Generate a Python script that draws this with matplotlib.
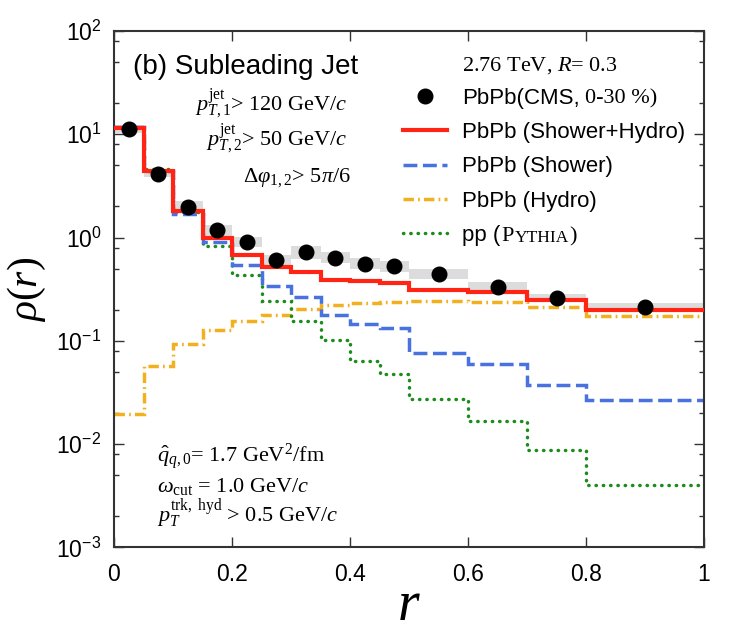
import numpy as np
import matplotlib
matplotlib.use("Agg")
import matplotlib.pyplot as plt
from matplotlib.lines import Line2D
from matplotlib.ticker import LogLocator, FixedLocator, FuncFormatter, NullFormatter

plt.rcParams["mathtext.fontset"] = "custom"
plt.rcParams["mathtext.rm"] = "Liberation Serif"
plt.rcParams["mathtext.it"] = "Liberation Serif:italic"
plt.rcParams["mathtext.bf"] = "Liberation Serif:bold"
plt.rcParams["mathtext.sf"] = "Liberation Sans"
plt.rcParams["font.family"] = ["Liberation Sans", "DejaVu Sans"]

# bin edges in r
edges = [0, 0.05, 0.1, 0.15, 0.2, 0.25, 0.3, 0.35, 0.4, 0.45, 0.5, 0.6, 0.7, 0.8, 1.0]

# CMS data (PbPb 0-30%), bin centres and values, relative systematic error
cms_r = [0.025, 0.075, 0.125, 0.175, 0.225, 0.275, 0.325, 0.375, 0.425, 0.475, 0.55, 0.65, 0.75, 0.9]
cms_val = [11.3, 4.17, 1.98, 1.18, 0.91, 0.61, 0.72, 0.64, 0.56, 0.53, 0.445, 0.333, 0.261, 0.212]
cms_sys = [0.10, 0.08, 0.14, 0.13, 0.12, 0.12, 0.16, 0.14, 0.13, 0.13, 0.12, 0.11, 0.10, 0.10]

# model curves (one value per bin)
shower_hydro = [11.5, 4.45, 1.80, 1.00, 0.674, 0.516, 0.466, 0.392, 0.377, 0.36, 0.31, 0.296, 0.251, 0.201]
shower = [11.8, 4.45, 1.71, 0.91, 0.54, 0.338, 0.264, 0.180, 0.147, 0.132, 0.0766, 0.0603, 0.0372, 0.027]
hydro = [0.0194, 0.0577, 0.0935, 0.127, 0.157, 0.180, 0.203, 0.221, 0.235, 0.240, 0.243, 0.236, 0.213, 0.173]
pythia = [11.6, 4.6, 1.75, 0.837, 0.432, 0.243, 0.156, 0.102, 0.0635, 0.0482, 0.0275, 0.0167, 0.00873, 0.00406]

c_red = "#ff2414"
c_blue = "#4872e0"
c_orange = "#f2b021"
c_green = "#1c8c1c"

fig = plt.figure(figsize=(7.5, 6.36), dpi=100)
ax = fig.add_axes([0.152, 0.1392, 0.7867, 0.8121])

# systematic boxes
edges_a = np.array(edges)
widths = np.diff(edges_a)
val = np.array(cms_val)
sys_ = np.array(cms_sys)
lo = val / (1 + sys_)
hi = val * (1 + sys_)
ax.bar(edges_a[:-1], hi - lo, width=widths, bottom=lo, align="edge",
       color="#dcdcdc", edgecolor="none", zorder=1)

st_blue = (0, (4.0, 1.6))
st_orange = (0, (3.0, 1.2, 0.5, 1.2))
st_green = (0, (0.1, 2.0))
lw_thin = 2.5

ax.stairs(hydro, edges, baseline=None, color=c_orange, lw=lw_thin, linestyle=st_orange, zorder=2)
ax.stairs(pythia, edges, baseline=None, color=c_green, lw=lw_thin, linestyle=st_green, zorder=2,
          capstyle="round")
ax.stairs(shower, edges, baseline=None, color=c_blue, lw=lw_thin, linestyle=st_blue, zorder=2)
ax.stairs(shower_hydro, edges, baseline=None, color=c_red, lw=3.0, zorder=3)
ax.plot(cms_r, cms_val, "o", color="black", ms=10.5, zorder=4)

ax.set_yscale("log")
ax.set_xlim(0, 1)
ax.set_ylim(1e-3, 1e2)

ax.xaxis.set_major_locator(FixedLocator([0, 0.2, 0.4, 0.6, 0.8, 1.0]))
ax.xaxis.set_major_formatter(FuncFormatter(lambda v, p: "0" if v == 0 else ("1" if v == 1 else f"{v:.1f}")))
ax.yaxis.set_major_locator(LogLocator(base=10, numticks=10))
ax.yaxis.set_minor_locator(LogLocator(base=10, subs=[2, 5, 8], numticks=10))
ax.yaxis.set_minor_formatter(NullFormatter())
ax.yaxis.set_major_formatter(FuncFormatter(lambda v, p: r"$\mathsf{10^{%d}}$" % int(round(np.log10(v)))))

ax.tick_params(which="both", direction="in", top=True, right=True, colors="#333333",
               labelcolor="black", labelsize=16.5)
ax.tick_params(which="major", length=7, width=1.0)
ax.tick_params(which="minor", length=3.5, width=1.0)
ax.tick_params(axis="x", pad=11)
ax.tick_params(axis="y", pad=9)
for s in ax.spines.values():
    s.set_linewidth(1.5)
    s.set_color("#333333")

ax.set_xlabel(r"$r$", fontsize=40, labelpad=-4)
ax.set_ylabel(r"$\rho(r)$", fontsize=30, labelpad=6)

# left-hand annotations
ax.text(0.032, 0.916, "(b) Subleading Jet", transform=ax.transAxes, fontsize=20,
        ha="left", va="baseline")
serif = ["Liberation Serif", "DejaVu Serif"]
fs = 16
ax.text(0.395, 0.847, r"$p_{T,1}^{\mathrm{jet}}$> 120 GeV/$c$", transform=ax.transAxes,
        family=serif, fontsize=fs, ha="right", va="baseline")
ax.text(0.395, 0.779, r"$p_{T,2}^{\mathrm{jet}}$> 50 GeV/$c$", transform=ax.transAxes,
        family=serif, fontsize=fs, ha="right", va="baseline")
ax.text(0.402, 0.708, r"$\mathit{\Delta}\varphi_{1,2}$> 5$\pi$/6", transform=ax.transAxes,
        family=serif, fontsize=fs, ha="right", va="baseline")

ax.text(0.073, 0.166, r"$\hat{q}_{q,0}$= 1.7 GeV$^2$/fm", transform=ax.transAxes,
        family=serif, fontsize=fs, ha="left", va="baseline")
ax.text(0.073, 0.108, r"$\omega_{\mathrm{cut}}$ = 1.0 GeV/$c$", transform=ax.transAxes,
        family=serif, fontsize=fs, ha="left", va="baseline")
ax.text(0.073, 0.050, r"$p_T^{\mathrm{trk,\ hyd}}$ > 0.5 GeV/$c$", transform=ax.transAxes,
        family=serif, fontsize=fs, ha="left", va="baseline")

ax.text(0.590, 0.9226, r"2.76 TeV, $R$= 0.3", transform=ax.transAxes,
        family=serif, fontsize=fs, ha="left", va="baseline")

# legend
handles = [
    Line2D([], [], marker="o", color="black", ls="none", ms=10.5),
    Line2D([], [], color=c_red, lw=3.0),
    Line2D([], [], color=c_blue, lw=lw_thin, ls=st_blue),
    Line2D([], [], color=c_orange, lw=lw_thin, ls=st_orange),
    Line2D([], [], color=c_green, lw=lw_thin, ls=st_green, dash_capstyle="round"),
]
labels = ["PbPb(CMS,", "PbPb (Shower+Hydro)", "PbPb (Shower)", "PbPb (Hydro)", "pp ("]
leg = ax.legend(handles, labels, loc="upper left", bbox_to_anchor=(0.49, 0.89),
                frameon=False, fontsize=16, borderpad=0, borderaxespad=0,
                handlelength=1.98, handletextpad=0.68, labelspacing=0.6, numpoints=1)
texts = leg.get_texts()
ax.annotate("0-30 %)", xy=(1, 0), xycoords=texts[0], xytext=(4, 0),
            textcoords="offset points", va="bottom", family=serif, fontsize=fs, zorder=6)
t1 = ax.annotate("P", xy=(1, 0), xycoords=texts[4], xytext=(0.5, 0),
                 textcoords="offset points", va="bottom", family=serif, fontsize=fs, zorder=6)
t2 = ax.annotate("YTHIA", xy=(1, 0), xycoords=t1, xytext=(0.5, 0),
                 textcoords="offset points", va="bottom", family=serif, fontsize=12.5, zorder=6)
ax.annotate(")", xy=(1, 0), xycoords=t2, xytext=(0.3, 0),
            textcoords="offset points", va="bottom", family=serif, fontsize=fs, zorder=6)

fig.savefig("out.png", dpi=100)
